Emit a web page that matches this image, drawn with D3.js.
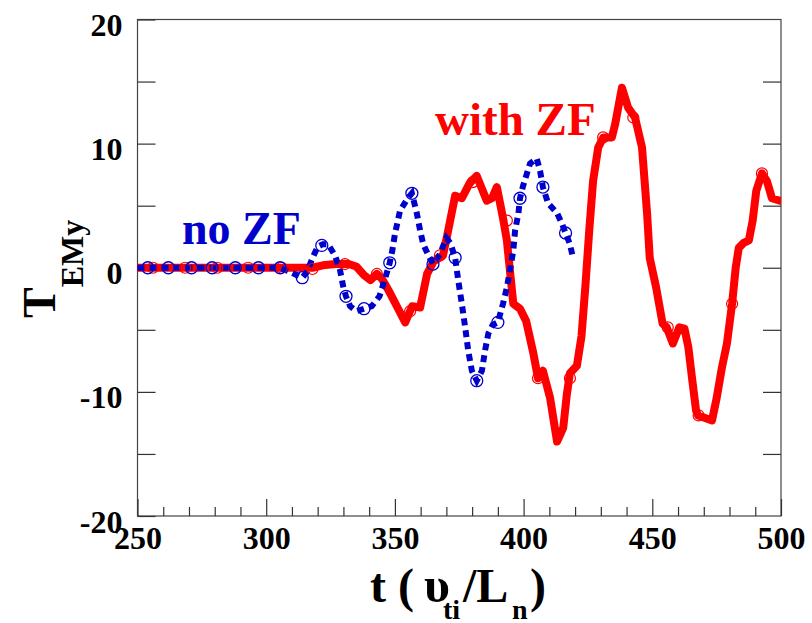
<!DOCTYPE html>
<html>
<head>
<meta charset="utf-8">
<script src="https://cdn.jsdelivr.net/npm/d3@7"></script>
<style>
  html, body { margin: 0; padding: 0; background: #fff; }
  svg { display: block; }
  text { font-family: "Liberation Serif", "Times New Roman", serif; font-weight: bold; }
</style>
</head>
<body>
<svg id="chart" width="812" height="623"></svg>
<script>
// Time axis (t, in units of L_n / v_ti) and torque T_EMy values.
const xDomain = [250, 500];
const yDomain = [-20, 20];
const xMajorTicks = [250, 300, 350, 400, 450, 500];
const xMinorTicks = d3.range(250, 501, 10);
const yTicks = [-20, -15, -10, -5, 0, 5, 10, 15, 20];
const yTickLabels = [-20, -10, 0, 10, 20];

// Run with zonal flows
const withZF_t = [250, 308, 318, 322, 327, 332, 335, 338, 340.5, 343, 345, 348, 351, 354, 356.7, 359.8,
  362.5, 365, 368.7, 370.7, 373.4, 376, 379, 381.8, 385.7, 387.7, 389.6, 392, 393.5, 396, 398.6, 401,
  403.8, 405.6, 407.5, 410.3, 413, 415.4, 416.8, 418, 420.7, 422.5, 424, 425.5, 427, 429, 431, 434.3,
  435.6, 438.2, 440.6, 443.3, 446, 448, 449, 451.5, 454, 455.6, 458, 460.5, 462.5, 464, 465.5, 467,
  467.8, 470.5, 473.2, 475, 477, 479, 481, 482.4, 483.6, 485.5, 487.5, 489, 490.4, 492.6, 494.5, 496.5,
  499.6, 500];
const withZF_y = [0, 0, 0, 0.2, 0.3, 0.3, 0.1, -0.6, -1.0, -0.5, -0.9, -2.0, -3.2, -4.4, -3.1, -3.2,
  -0.5, 0.5, 1.0, 3.0, 5.8, 5.6, 6.8, 7.4, 5.4, 5.6, 6.5, 4.0, 2.2, -2.9, -3.3, -4.3,
  -6.9, -8.9, -8.3, -10.5, -14.0, -12.9, -10.2, -8.5, -7.9, -5.5, -1.5, 3.0, 7.0, 9.7, 10.5, 10.5,
  11.6, 14.5, 12.9, 12.1, 9.7, 4.3, 0.8, -1.6, -4.5, -4.8, -6.1, -4.8, -4.9, -6.4, -9.0, -11.5,
  -11.9, -12.1, -12.3, -10.5, -8.1, -6.1, -2.9, 0.0, 1.6, 2.0, 2.2, 3.8, 6.2, 7.6, 7.0, 5.6,
  5.4, 5.4];
const withZF_markT = [256, 268.5, 281, 293, 306, 318, 330.6, 343, 355.9, 367.5, 380.3, 393.5, 405.6,
  418, 430.9, 442.6, 456, 468, 481, 492.6];
const withZF_markY = [0, 0, 0, 0, 0, -0.1, 0.3, -0.5, -3.5, 1.0, 6.9, 3.8, -8.9,
  -8.9, 10.5, 12.1, -4.8, -11.9, -2.9, 7.6];

// Run without zonal flows
const noZF_t = [250, 305, 309, 312, 314, 316, 317.8, 320, 322, 324, 326.7, 328.7, 330, 331, 332.6, 335,
  338, 341, 344, 346, 348, 349, 350, 352, 355, 356.6, 358.5, 359.8, 361, 363, 364.8, 367.5, 370,
  371.5, 373.4, 374.6, 376, 377.3, 378.5, 379.9, 381.8, 383.8, 385, 386.3, 388, 390, 392, 393.5,
  394.7, 396, 396.7, 398, 398.6, 399.8, 401.3, 402.5, 405.1, 406.4, 407.5, 409.5, 413, 415, 416.3,
  418, 419.2];
const noZF_y = [0, 0, -0.3, -0.6, -0.8, -0.3, 0.7, 1.7, 1.9, 1.9, 1.0, -0.2, -1.6, -2.3, -3.1, -3.5,
  -3.3, -3.1, -2.3, -1.0, 0.4, 1.4, 2.7, 4.6, 5.6, 6.0, 4.4, 3.0, 1.9, 1.0, 0.3, 1.1, 2.4,
  2.0, 0.8, -1.0, -2.9, -4.8, -6.7, -8.3, -9.1, -8.3, -6.7, -5.3, -4.6, -4.4, -2.9, -1.6,
  -0.2, 1.4, 3.0, 4.4, 5.6, 6.6, 7.6, 8.4, 8.8, 7.8, 6.5, 5.2, 4.4, 3.5, 2.8,
  1.9, 0.8];
const noZF_markT = [254, 262, 271, 279, 288, 297, 305.4, 314, 321.6, 331, 338, 348, 356.6, 364.8,
  373.4, 381.8, 390, 398.6, 407.5, 416.3];
const noZF_markY = [0, 0, 0, 0, 0, 0, 0, -0.8, 1.8, -2.3, -3.3, 0.4, 6.0, 0.3,
  0.8, -9.1, -4.4, 5.6, 6.5, 2.8];

const RED = "#ff0000";
const BLUE = "#0000cc";

const svg = d3.select("#chart");
const plotLeft = 137.5, plotRight = 781, plotTop = 19.5, plotBottom = 516;

const x = d3.scaleLinear().domain(xDomain).range([plotLeft, plotRight]);
const y = d3.scaleLinear().domain(yDomain).range([plotBottom, plotTop]);

const zip = (ts, ys) => ts.map((t, i) => [t, ys[i]]);
const line = d3.line().x(d => x(d[0])).y(d => y(d[1]));

// Frame
svg.append("rect")
  .attr("x", plotLeft).attr("y", plotTop)
  .attr("width", plotRight - plotLeft).attr("height", plotBottom - plotTop)
  .attr("fill", "none").attr("stroke", "#444").attr("stroke-width", 1.2);

// Bottom axis: major + minor ticks pointing inward
const xMajor = svg.append("g").attr("transform", `translate(0,${plotBottom})`)
  .call(d3.axisBottom(x).tickValues(xMajorTicks).tickSize(-17).tickPadding(10).tickFormat(d3.format("d")));
const xMinor = svg.append("g").attr("transform", `translate(0,${plotBottom})`)
  .call(d3.axisBottom(x).tickValues(xMinorTicks.filter(v => !xMajorTicks.includes(v))).tickSize(-9).tickFormat(""));

// Left axis with labels, right axis ticks only
const yLeft = svg.append("g").attr("transform", `translate(${plotLeft},0)`)
  .call(d3.axisLeft(y).tickValues(yTicks).tickSize(-18).tickPadding(15)
    .tickFormat(v => yTickLabels.includes(v) ? String(v) : ""));
const yRight = svg.append("g").attr("transform", `translate(${plotRight},0)`)
  .call(d3.axisRight(y).tickValues(yTicks.filter(v => v > -20 && v < 20)).tickSize(-18).tickFormat(""));

[xMajor, xMinor, yLeft, yRight].forEach(g => {
  g.select(".domain").remove();
  g.selectAll(".tick line").attr("stroke", "#333").attr("stroke-width", 1.2);
  g.selectAll(".tick text").attr("fill", "#000")
    .style("font-family", '"Liberation Serif", "Times New Roman", serif')
    .style("font-weight", "bold").style("font-size", "32px");
});
yLeft.selectAll(".tick text").attr("dy", "0.5em");

// Curves
svg.append("path").datum(zip(withZF_t, withZF_y))
  .attr("d", line).attr("fill", "none").attr("stroke", RED)
  .attr("stroke-width", 8).attr("stroke-linejoin", "round");

svg.append("path").datum(zip(noZF_t, noZF_y))
  .attr("d", line).attr("fill", "none").attr("stroke", BLUE)
  .attr("stroke-width", 6).attr("stroke-dasharray", "7,5");

svg.append("g").selectAll("circle").data(zip(withZF_markT, withZF_markY)).join("circle")
  .attr("cx", d => x(d[0])).attr("cy", d => y(d[1])).attr("r", 5.5)
  .attr("fill", "none").attr("stroke", RED).attr("stroke-width", 1.2);

svg.append("g").selectAll("circle").data(zip(noZF_markT, noZF_markY)).join("circle")
  .attr("cx", d => x(d[0])).attr("cy", d => y(d[1])).attr("r", 6)
  .attr("fill", "none").attr("stroke", BLUE).attr("stroke-width", 1.3);

// Series labels
svg.append("text").attr("x", 182).attr("y", 244).attr("fill", BLUE)
  .style("font-size", "46px").text("no ZF");
svg.append("text").attr("x", 435).attr("y", 135).attr("fill", RED)
  .style("font-size", "47px").text("with ZF");

// X axis title: t (υ_ti / L_n)
const xt = svg.append("text").attr("fill", "#000").style("font-size", "48px");
xt.append("tspan").attr("x", 370).attr("y", 602).text("t");
xt.append("tspan").attr("x", 398).attr("y", 602).text("(");
xt.append("tspan").attr("x", 424).attr("y", 602).style("font-size", "50px").text("υ");
xt.append("tspan").attr("x", 443).attr("y", 619).style("font-size", "28px").text("ti");
xt.append("tspan").attr("x", 463).attr("y", 602).text("/L");
xt.append("tspan").attr("x", 512).attr("y", 619).style("font-size", "28px").text("n");
xt.append("tspan").attr("x", 530).attr("y", 602).text(")");

// Y axis title: T_EMy
const yt = svg.append("text").attr("fill", "#000")
  .attr("transform", "rotate(-90)").attr("x", -318).attr("y", 55)
  .style("font-size", "46px");
yt.append("tspan").text("T");
yt.append("tspan").attr("dy", 28).style("font-size", "32px").text("EMy");
</script>
</body>
</html>
